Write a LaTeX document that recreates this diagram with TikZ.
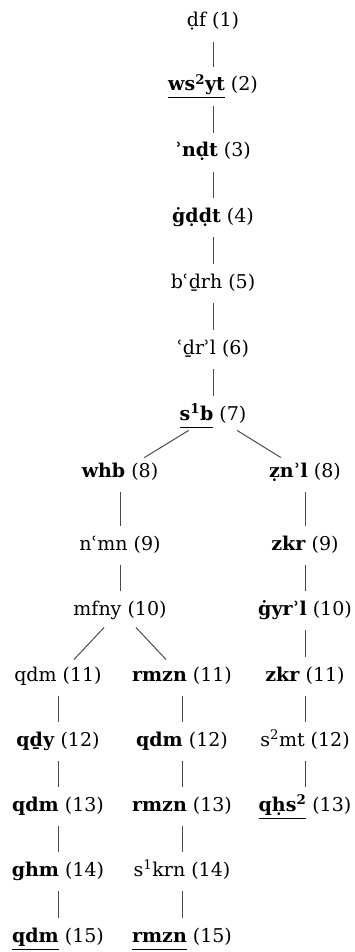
\documentclass[tikz,border=0pt]{standalone}
\usepackage{fontspec}
\setmainfont{DejaVu Serif}
\newsavebox\ulbox
\newcommand\ulb[1]{\sbox\ulbox{\textbf{#1}}\rlap{\rule[-7.5pt]{\wd\ulbox}{1pt}}\usebox\ulbox}
\newcommand\sa{\textsuperscript{1}}
\newcommand\sbb{\textsuperscript{2}}
\begin{document}
\begin{tikzpicture}[x=1pt,y=-1pt,
  lab/.style={anchor=base,inner sep=0pt,text height=14pt,text depth=5pt,
    font=\fontsize{19}{23}\selectfont},
  edge/.style={draw=black!70,line width=1pt,shorten <=10pt,shorten >=10pt}]
\useasboundingbox (0,0) rectangle (355,952);
% main column
\node[lab] (a1) at (213,27) {ḍf (1)};
\node[lab] (a2) at (213,91) {\ulb{ws\sbb yt} (2)};
\node[lab] (a3) at (213,157) {\textbf{ʾnḍt} (3)};
\node[lab] (a4) at (213,222) {\textbf{ġḍḍt} (4)};
\node[lab] (a5) at (213,288) {bʿḏrh (5)};
\node[lab] (a6) at (213,354) {ʿḏrʾl (6)};
\node[lab] (a7) at (213,420) {\ulb{s\sa b} (7)};
% left branch
\node[lab] (l8) at (120,477) {\textbf{whb} (8)};
\node[lab] (l9) at (120,550) {nʿmn (9)};
\node[lab] (l10) at (120,615) {mfny (10)};
% left-left column
\node[lab] (p11) at (58,681) {qdm (11)};
\node[lab] (p12) at (58,746) {\textbf{qḏy} (12)};
\node[lab] (p13) at (58,811) {\textbf{qdm} (13)};
\node[lab] (p14) at (58,876) {\textbf{ghm} (14)};
\node[lab] (p15) at (58,942) {\ulb{qdm} (15)};
% left-right column
\node[lab] (q11) at (182,681) {\textbf{rmzn} (11)};
\node[lab] (q12) at (182,746) {\textbf{qdm} (12)};
\node[lab] (q13) at (182,811) {\textbf{rmzn} (13)};
\node[lab] (q14) at (182,876) {s\sa krn (14)};
\node[lab] (q15) at (182,942) {\ulb{rmzn} (15)};
% right branch
\node[lab] (r8) at (305,477) {\textbf{ẓnʾl} (8)};
\node[lab] (r9) at (305,550) {\textbf{zkr} (9)};
\node[lab] (r10) at (305,615) {\textbf{ġyrʾl} (10)};
\node[lab] (r11) at (305,681) {\textbf{zkr} (11)};
\node[lab] (r12) at (305,746) {s\sbb mt (12)};
\node[lab] (r13) at (305,811) {\ulb{qḥs\sbb} (13)};
% edges
\draw[edge] (a1) -- (a2);
\draw[edge] (a2) -- (a3);
\draw[edge] (a3) -- (a4);
\draw[edge] (a4) -- (a5);
\draw[edge] (a5) -- (a6);
\draw[edge] (a6) -- (a7);
\draw[edge] (a7) -- (l8);
\draw[edge] (a7) -- (r8);
\draw[edge] (l8) -- (l9);
\draw[edge] (l9) -- (l10);
\draw[edge] (l10) -- (p11);
\draw[edge] (l10) -- (q11);
\draw[edge] (p11) -- (p12);
\draw[edge] (p12) -- (p13);
\draw[edge] (p13) -- (p14);
\draw[edge] (p14) -- (p15);
\draw[edge] (q11) -- (q12);
\draw[edge] (q12) -- (q13);
\draw[edge] (q13) -- (q14);
\draw[edge] (q14) -- (q15);
\draw[edge] (r8) -- (r9);
\draw[edge] (r9) -- (r10);
\draw[edge] (r10) -- (r11);
\draw[edge] (r11) -- (r12);
\draw[edge] (r12) -- (r13);
\end{tikzpicture}
\end{document}
